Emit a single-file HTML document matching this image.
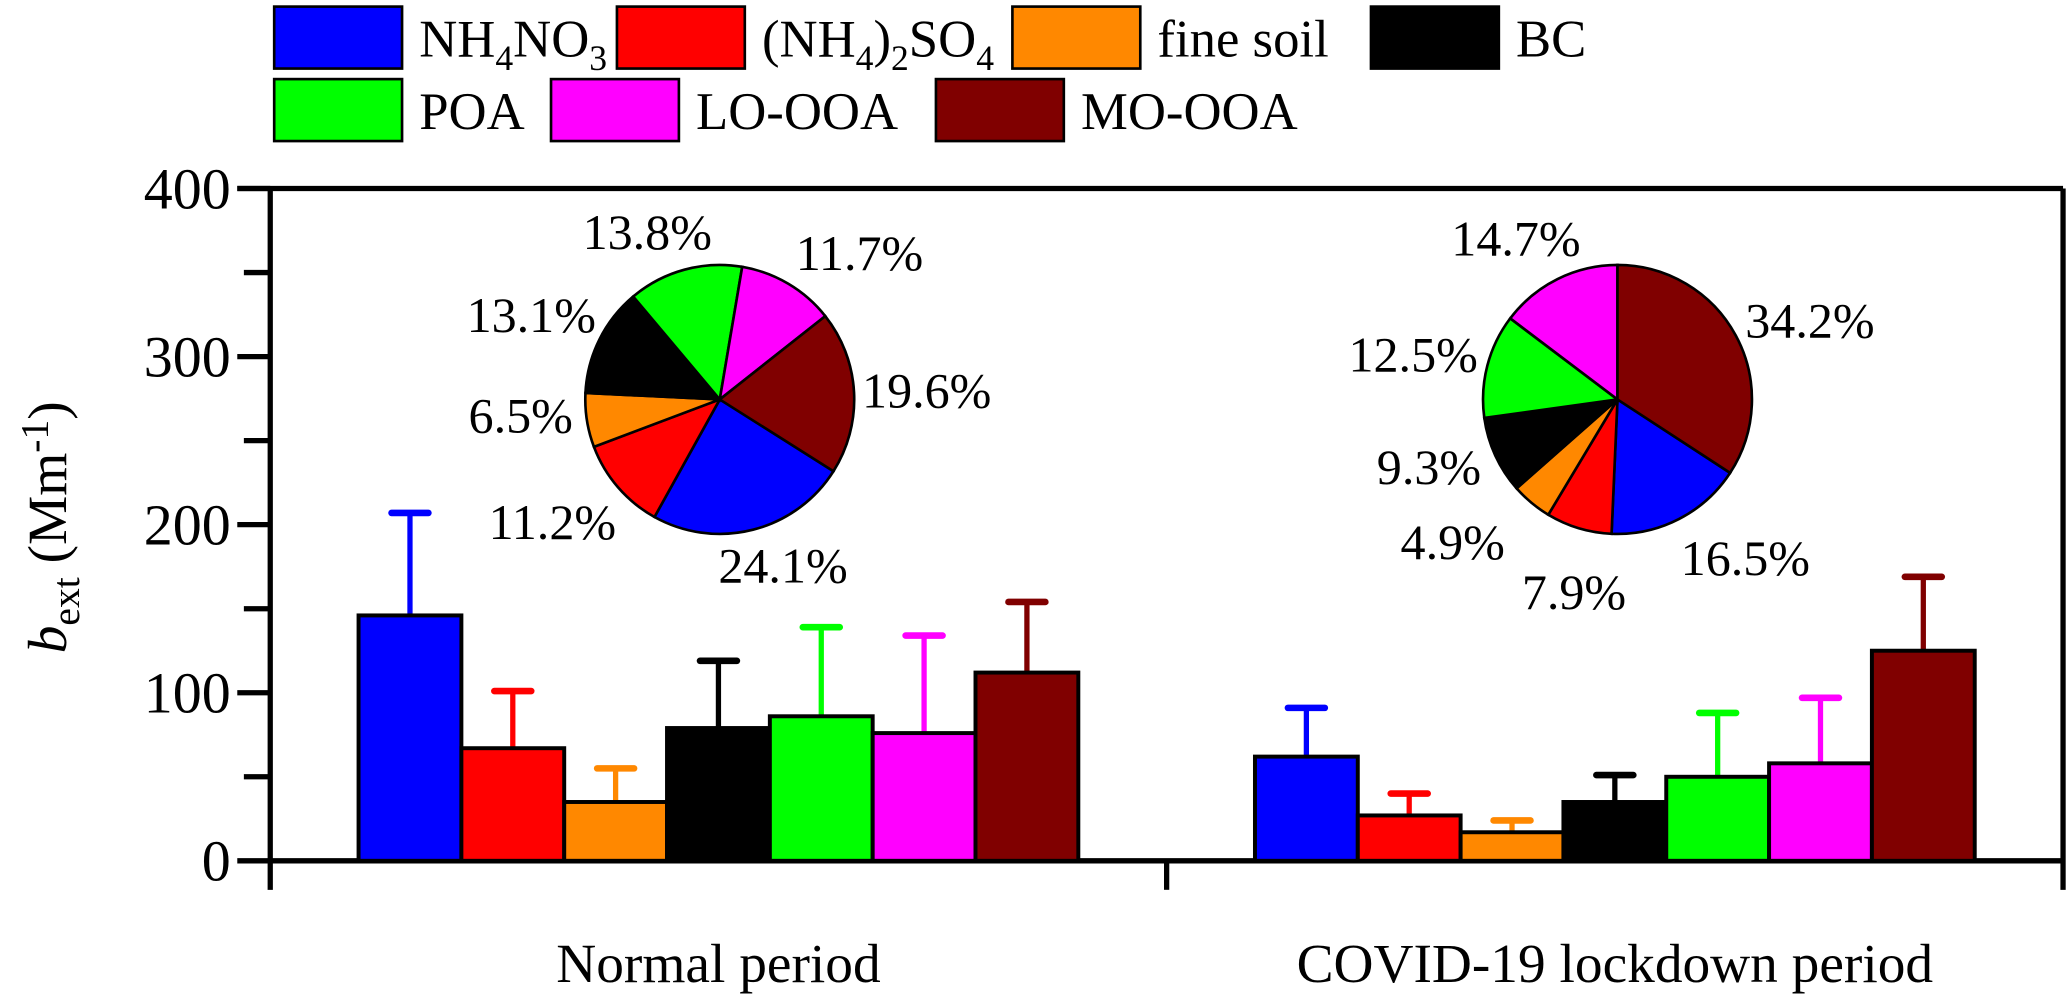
<!DOCTYPE html>
<html><head><meta charset="utf-8"><style>
html,body{margin:0;padding:0;background:#fff;}
svg{display:block;font-family:"Liberation Serif",serif;}
</style></head><body>
<svg id="chart" width="2067" height="997" viewBox="0 0 1568 756.3">
<g id="legend"></g>
<g id="axes"></g>
<g id="bars"></g>
<g id="pies"></g>
</svg>
<script>
const categories = ["NH4NO3","(NH4)2SO4","fine soil","BC","POA","LO-OOA","MO-OOA"];
const colors = ["#0000ff","#ff0000","#ff8800","#000000","#00ff00","#ff00ff","#800000"];
const groups = ["Normal period","COVID-19 lockdown period"];
const normalValues = [146,67,35,79,86,76,112];
const normalErrTops = [207,101,55,119,139,134,154];
const lockdownValues = [62,27,17,35,50,58,125];
const lockdownErrTops = [91,40,24,51,88,97,169];
const yTicks = [0,100,200,300,400];
const normalPie = [24.1,11.2,6.5,13.1,13.8,11.7,19.6];
const lockdownPie = [16.5,7.9,4.9,9.3,12.5,14.7,34.2];

const NS="http://www.w3.org/2000/svg";
function mk(tag,attrs,parent){const e=document.createElementNS(NS,tag);for(const k in attrs)e.setAttribute(k,attrs[k]);parent.appendChild(e);return e;}
const X0=205,X1=1565,Y0=653,Y1=143;
const y=v=>Y0-(v/400)*(Y0-Y1);
const axes=document.getElementById('axes');
let l;
l=mk('line',{x1:X0,y1:Y0,x2:X1,y2:Y0,stroke:'#000','stroke-width':4},axes);


l=mk('line',{x1:X0,y1:Y1,x2:X0,y2:Y0+22,stroke:'#000','stroke-width':4},axes);


l=mk('line',{x1:X0-25,y1:Y1,x2:X1,y2:Y1,stroke:'#000','stroke-width':4},axes);


l=mk('line',{x1:X1,y1:Y1,x2:X1,y2:Y0+22,stroke:'#000','stroke-width':4},axes);


l=mk('line',{x1:885,y1:Y0,x2:885,y2:Y0+22,stroke:'#000','stroke-width':4},axes);


yTicks.forEach(v=>{
  const t=mk('line',{x1:X0-25,y1:y(v),x2:X0,y2:y(v),stroke:'#000','stroke-width':4},axes);
  
  
  const tx=mk('text',{x:X0-30,y:y(v)+15,'text-anchor':'end','font-size':44},axes);
  tx.textContent=v;
  
  
  if(v<400){
    const m=mk('line',{x1:X0-20,y1:y(v+50),x2:X0,y2:y(v+50),stroke:'#000','stroke-width':4},axes);
    
    
  }
});
const yl=mk('text',{x:0,y:0,'font-size':42,transform:'translate(50,400) rotate(-90)','text-anchor':'middle'},axes);
yl.innerHTML='<tspan font-style="italic">b</tspan><tspan font-size="30" dy="10">ext</tspan><tspan dy="-10"> (Mm</tspan><tspan font-size="30" dy="-14">-1</tspan><tspan dy="14">)</tspan>';


[545,1225].forEach((cx,i)=>{
  const t=mk('text',{x:cx,y:745,'text-anchor':'middle','font-size':42},axes);
  t.textContent=groups[i];
  
  
});
const bars=document.getElementById('bars');
const BW=78;
[[272,normalValues,normalErrTops],[952,lockdownValues,lockdownErrTops]].forEach(([sx,vals,errs],gi)=>{
  vals.forEach((v,i)=>{
    const bx=sx+i*BW, cx=bx+BW/2;
    const e=mk('line',{x1:cx,y1:y(errs[i]),x2:cx,y2:y(v),stroke:colors[i],'stroke-width':4},bars);
    
    
    const c=mk('line',{x1:cx-14,y1:y(errs[i]),x2:cx+14,y2:y(errs[i]),stroke:colors[i],'stroke-width':5,'stroke-linecap':'round'},bars);
    
    
    const r=mk('rect',{x:bx,y:y(v),width:BW,height:Y0-y(v),fill:colors[i],stroke:'#000','stroke-width':3},bars);
    
    
  });
});
const pies=document.getElementById('pies');
function drawPie(cx,cy,r,vals,order,startDeg,labels,name){
  let a=startDeg;
  order.forEach((ci,k)=>{
    const v=vals[k], a2=a+v*3.6;
    const p=d=>[cx+r*Math.sin(d*Math.PI/180), cy-r*Math.cos(d*Math.PI/180)];
    const [x1,y1]=p(a),[x2,y2]=p(a2);
    const s=mk('path',{d:`M${cx},${cy}L${x1},${y1}A${r},${r} 0 ${v>50?1:0} 1 ${x2},${y2}Z`,fill:colors[ci],stroke:'#000','stroke-width':2},pies);
    
    
    const t=mk('text',{x:labels[k][0],y:labels[k][1]+13,'text-anchor':'middle','font-size':38},pies);
    t.textContent=v.toFixed(1)+'%';
    
    
    a=a2;
  });
}
drawPie(546,303,102,normalPie,[0,1,2,3,4,5,6],9.6+(11.7+19.6)*3.6,
 [[594,429],[419,396],[395,315],[403,239],[491,176],[652,192],[703,296]],'normal-pie');
drawPie(1227,303,102,lockdownPie,[0,1,2,3,4,5,6],34.2*3.6,
 [[1324,423],[1194,449],[1102,411],[1084,354],[1072,269],[1150,181],[1373,243]],'lockdown-pie');
const lg=document.getElementById('legend');
const legendItems=[[208,5,0,'NH<tspan font-size="27" dy="10">4</tspan><tspan dy="-10">NO</tspan><tspan font-size="27" dy="10">3</tspan>'],
[468,5,1,'(NH<tspan font-size="27" dy="10">4</tspan><tspan dy="-10">)</tspan><tspan font-size="27" dy="10">2</tspan><tspan dy="-10">SO</tspan><tspan font-size="27" dy="10">4</tspan>'],
[768,5,2,'fine soil'],[1040,5,3,'BC'],[208,60,4,'POA'],[418,60,5,'LO-OOA'],[710,60,6,'MO-OOA']];
legendItems.forEach(([lx,ly,ci,txt])=>{
  const r=mk('rect',{x:lx,y:ly,width:97,height:47,fill:colors[ci],stroke:'#000','stroke-width':2},lg);
  
  
  const t=mk('text',{x:lx+110,y:ly+38,'font-size':40},lg);
  t.innerHTML=txt;
  
  
});
</script>
</body></html>
